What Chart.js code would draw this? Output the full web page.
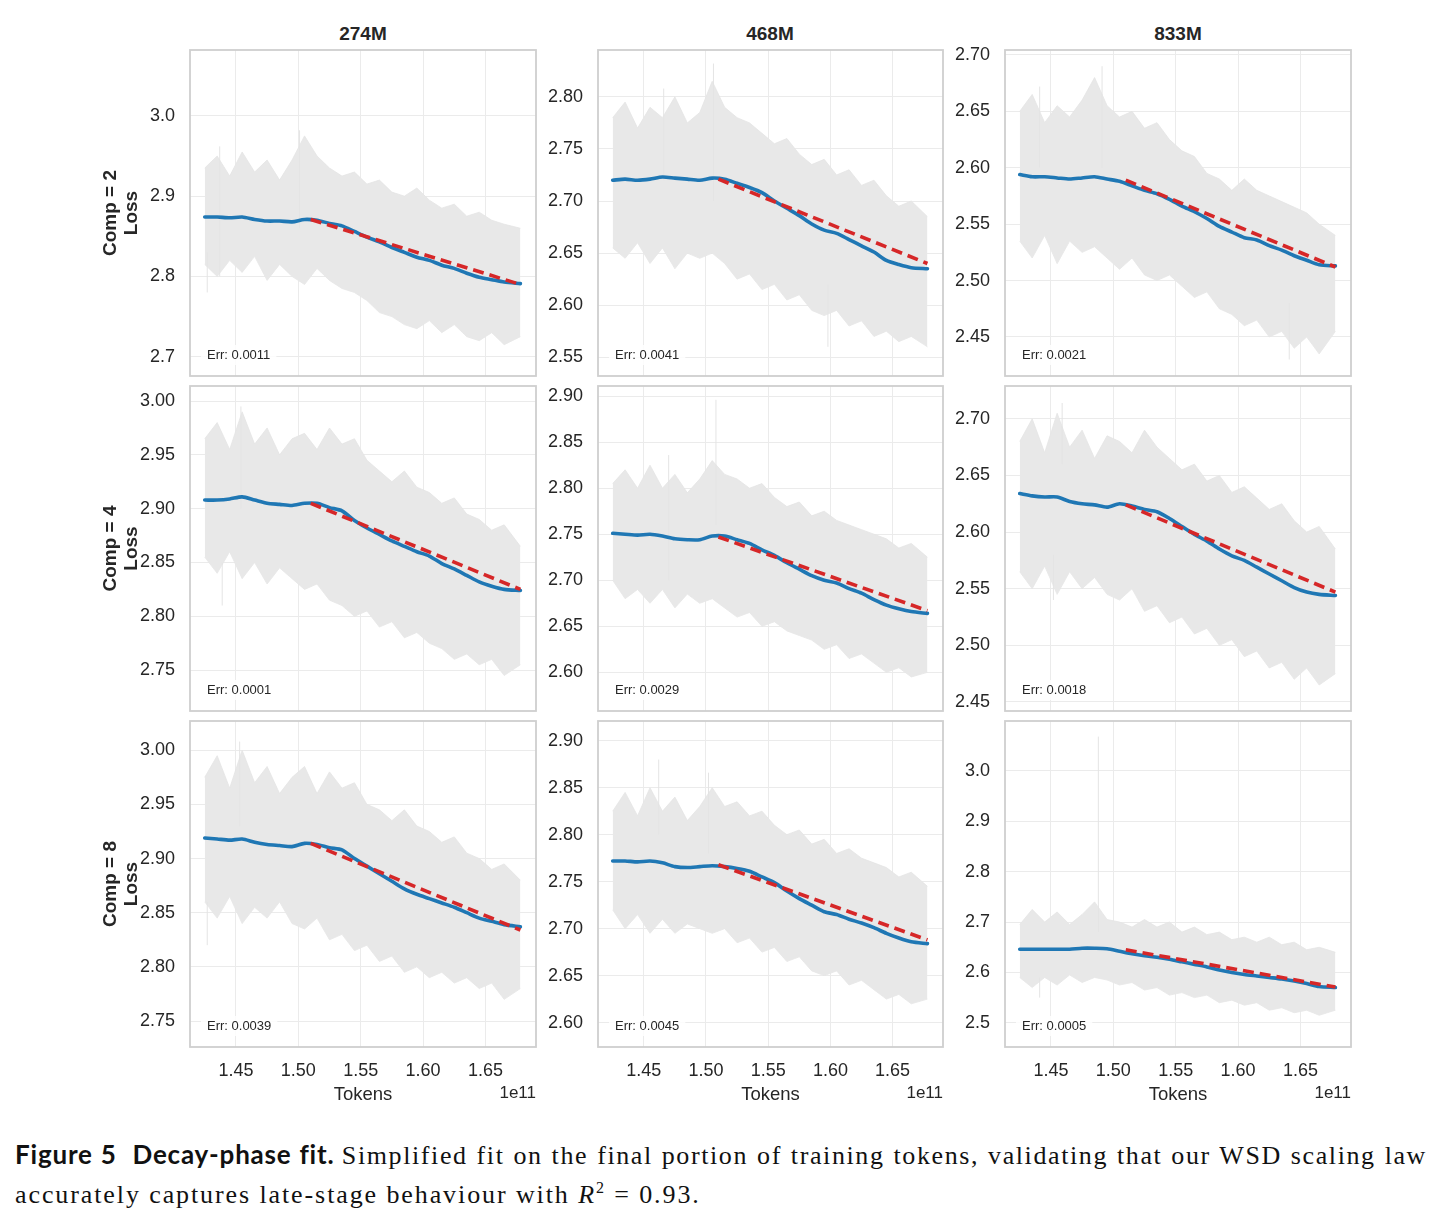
<!DOCTYPE html>
<html>
<head>
<meta charset="utf-8">
<script src="https://cdn.jsdelivr.net/npm/chart.js@4.4.1/dist/chart.umd.min.js"></script>
<style>
  body { margin: 0; background: #fff; width: 1443px; height: 1217px; position: relative; overflow: hidden; }
  .panel { position: absolute; }
  .coltitle { position: absolute; font: bold 19px "Liberation Sans", Arial, sans-serif; color: #262626; line-height: 22px; transform: translateX(-50%); }
  .cap { position: absolute; left: 15px; width: 1412px; font: 26px "Liberation Serif", "Times New Roman", serif; color: #111; line-height: 33px; }
  .cap .s { letter-spacing: 1.6px; }
  .cap .s2 { letter-spacing: 1.9px; }
  .cap b { font-family: Lato, "Open Sans", sans-serif; font-weight: 700; font-size: 26px; letter-spacing: 0.8px; }
</style>
</head>
<body>
<div class="coltitle" style="left:363px;top:23px">274M</div>
<div class="coltitle" style="left:770px;top:23px">468M</div>
<div class="coltitle" style="left:1178px;top:23px">833M</div>
<div class="cap" style="top:1138px;text-align:justify;text-align-last:justify"><b>Figure 5&nbsp; Decay-phase fit.</b> <span class="s">Simplified fit on the final portion of training tokens, validating that our WSD scaling law</span></div>
<div class="cap" style="top:1171px"><span class="s2">accurately captures late-stage behaviour with <i>R</i><sup style="font-size:16px">2</sup> = 0.93.</span></div>

<script>
// tokens are in units of 1e11
const tokens = [1.425, 1.435, 1.445, 1.455, 1.465, 1.475, 1.485, 1.495, 1.505, 1.515, 1.525, 1.535, 1.545,
                1.555, 1.565, 1.575, 1.585, 1.595, 1.605, 1.615, 1.625, 1.635, 1.645, 1.655, 1.665, 1.678];
const xTicks = [1.45, 1.50, 1.55, 1.60, 1.65];
const xRange = [1.4132, 1.6905];

const models = ['274M', '468M', '833M'];
const comps = ['Comp = 2', 'Comp = 4', 'Comp = 8'];
// panels in row order: comp 2 (274M, 468M, 833M), comp 4 (...), comp 8 (...)
const errs = ['0.0011', '0.0041', '0.0021', '0.0001', '0.0029', '0.0018', '0.0039', '0.0045', '0.0005'];

// smoothed loss (blue)
const smooth = [
  [2.874,2.874,2.873,2.874,2.871,2.869,2.869,2.868,2.871,2.870,2.866,2.863,2.856,2.849,2.843,2.836,2.830,2.824,2.820,2.814,2.810,2.804,2.799,2.796,2.793,2.791],
  [2.720,2.721,2.720,2.721,2.723,2.722,2.721,2.720,2.722,2.721,2.717,2.713,2.708,2.700,2.693,2.686,2.678,2.672,2.669,2.663,2.657,2.651,2.643,2.639,2.636,2.635],
  [2.594,2.592,2.592,2.591,2.590,2.591,2.592,2.590,2.588,2.584,2.580,2.577,2.572,2.566,2.561,2.555,2.548,2.543,2.538,2.536,2.531,2.527,2.522,2.518,2.514,2.513],
  [2.908,2.908,2.909,2.911,2.908,2.905,2.904,2.903,2.905,2.905,2.901,2.898,2.889,2.882,2.876,2.870,2.865,2.860,2.856,2.849,2.844,2.838,2.832,2.828,2.825,2.824],
  [2.751,2.750,2.749,2.750,2.748,2.745,2.744,2.744,2.748,2.748,2.744,2.740,2.733,2.727,2.719,2.712,2.705,2.700,2.697,2.691,2.686,2.679,2.673,2.669,2.666,2.664],
  [2.634,2.632,2.631,2.631,2.627,2.625,2.624,2.622,2.625,2.623,2.620,2.618,2.612,2.605,2.598,2.592,2.585,2.579,2.575,2.569,2.563,2.557,2.551,2.547,2.545,2.544],
  [2.919,2.918,2.917,2.918,2.915,2.913,2.912,2.911,2.914,2.913,2.910,2.908,2.900,2.893,2.886,2.879,2.872,2.867,2.863,2.859,2.855,2.850,2.845,2.842,2.839,2.837],
  [2.772,2.772,2.771,2.772,2.770,2.766,2.765,2.766,2.767,2.766,2.764,2.761,2.755,2.749,2.740,2.732,2.725,2.718,2.715,2.710,2.706,2.701,2.695,2.690,2.686,2.684],
  [2.646,2.646,2.646,2.646,2.646,2.648,2.648,2.647,2.642,2.637,2.633,2.630,2.626,2.621,2.616,2.611,2.605,2.600,2.596,2.593,2.590,2.587,2.583,2.578,2.572,2.570]
];

// raw loss band (grey), upper and lower envelope
const upper = [
  [2.935,2.950,2.925,2.955,2.930,2.945,2.920,2.945,2.975,2.950,2.935,2.925,2.930,2.915,2.920,2.905,2.900,2.910,2.895,2.885,2.890,2.875,2.880,2.870,2.865,2.860],
  [2.780,2.795,2.770,2.790,2.780,2.800,2.775,2.785,2.815,2.790,2.780,2.775,2.765,2.755,2.760,2.745,2.735,2.740,2.725,2.730,2.715,2.720,2.705,2.695,2.700,2.685],
  [2.650,2.665,2.640,2.655,2.645,2.660,2.680,2.655,2.645,2.650,2.635,2.640,2.625,2.615,2.610,2.595,2.590,2.580,2.590,2.580,2.575,2.570,2.565,2.560,2.550,2.540],
  [2.965,2.980,2.955,2.990,2.960,2.975,2.950,2.965,2.970,2.955,2.975,2.960,2.965,2.945,2.935,2.925,2.935,2.920,2.915,2.905,2.910,2.895,2.890,2.880,2.885,2.865],
  [2.805,2.820,2.800,2.825,2.800,2.815,2.795,2.810,2.830,2.815,2.810,2.800,2.805,2.790,2.780,2.785,2.770,2.775,2.765,2.760,2.755,2.750,2.745,2.735,2.740,2.725],
  [2.680,2.700,2.670,2.705,2.675,2.690,2.665,2.685,2.680,2.670,2.690,2.675,2.665,2.655,2.660,2.645,2.650,2.635,2.640,2.630,2.620,2.625,2.610,2.600,2.605,2.585],
  [2.975,2.995,2.965,3.000,2.970,2.985,2.960,2.975,2.985,2.960,2.980,2.965,2.970,2.950,2.945,2.935,2.945,2.930,2.925,2.915,2.920,2.905,2.900,2.890,2.895,2.880],
  [2.825,2.845,2.820,2.850,2.825,2.840,2.815,2.830,2.850,2.830,2.835,2.820,2.825,2.810,2.800,2.805,2.790,2.795,2.780,2.785,2.775,2.770,2.765,2.755,2.760,2.745],
  [2.695,2.725,2.700,2.720,2.695,2.715,2.740,2.705,2.700,2.690,2.705,2.690,2.700,2.680,2.690,2.675,2.680,2.665,2.670,2.660,2.670,2.655,2.660,2.645,2.650,2.640]
];
const lower = [
  [2.815,2.800,2.820,2.805,2.825,2.795,2.815,2.800,2.790,2.810,2.795,2.785,2.780,2.770,2.755,2.750,2.740,2.735,2.745,2.730,2.740,2.725,2.720,2.730,2.715,2.725],
  [2.655,2.645,2.660,2.640,2.655,2.635,2.650,2.645,2.650,2.640,2.625,2.630,2.615,2.620,2.605,2.610,2.595,2.590,2.595,2.580,2.585,2.570,2.575,2.565,2.570,2.560],
  [2.535,2.520,2.540,2.515,2.535,2.525,2.530,2.520,2.510,2.520,2.505,2.500,2.505,2.495,2.485,2.490,2.475,2.470,2.460,2.465,2.450,2.455,2.440,2.450,2.435,2.455],
  [2.855,2.840,2.860,2.835,2.850,2.830,2.845,2.835,2.825,2.830,2.815,2.810,2.800,2.805,2.790,2.795,2.780,2.785,2.775,2.770,2.760,2.765,2.755,2.760,2.745,2.755],
  [2.700,2.680,2.690,2.675,2.690,2.670,2.685,2.675,2.680,2.670,2.660,2.665,2.650,2.655,2.645,2.640,2.635,2.625,2.630,2.615,2.620,2.610,2.600,2.605,2.595,2.600],
  [2.565,2.550,2.570,2.545,2.565,2.550,2.560,2.545,2.540,2.550,2.530,2.535,2.520,2.525,2.510,2.515,2.500,2.505,2.490,2.495,2.480,2.485,2.470,2.480,2.465,2.475],
  [2.860,2.845,2.865,2.840,2.855,2.845,2.860,2.840,2.835,2.845,2.825,2.830,2.815,2.820,2.805,2.810,2.795,2.800,2.790,2.795,2.785,2.790,2.780,2.785,2.770,2.780],
  [2.720,2.700,2.715,2.695,2.710,2.695,2.705,2.700,2.695,2.700,2.685,2.690,2.675,2.680,2.665,2.670,2.655,2.650,2.655,2.640,2.645,2.635,2.625,2.630,2.620,2.625],
  [2.590,2.570,2.590,2.575,2.595,2.580,2.590,2.585,2.575,2.580,2.565,2.570,2.555,2.560,2.550,2.555,2.540,2.545,2.535,2.540,2.525,2.530,2.520,2.525,2.515,2.525]
];

// isolated tall raw spikes: [token, low, high]
const spikes = [
  [[1.501, 2.86, 2.982], [1.437, 2.80, 2.962], [1.427, 2.78, 2.83]],
  [[1.506, 2.70, 2.832], [1.466, 2.72, 2.808], [1.598, 2.56, 2.62]],
  [[1.491, 2.60, 2.690], [1.441, 2.60, 2.672], [1.641, 2.43, 2.48]],
  [[1.454, 2.90, 2.995], [1.439, 2.81, 2.85]],
  [[1.508, 2.76, 2.896], [1.470, 2.70, 2.836]],
  [[1.459, 2.66, 2.714], [1.452, 2.54, 2.58]],
  [[1.453, 2.93, 3.008], [1.427, 2.82, 2.86]],
  [[1.462, 2.80, 2.880], [1.502, 2.78, 2.866]],
  [[1.488, 2.68, 3.068], [1.441, 2.55, 2.59]]
];

// linear decay-phase fit (red dashed)
const fitX = [1.51, 1.678];
const fitY = [
  [2.871, 2.790], [2.721, 2.640], [2.589, 2.512],
  [2.905, 2.825], [2.747, 2.667], [2.624, 2.547],
  [2.914, 2.834], [2.768, 2.688], [2.645, 2.571]
];

const yRange = [
  [2.676, 3.082], [2.532, 2.845], [2.4154, 2.7044],
  [2.712, 3.014], [2.558, 2.911], [2.442, 2.729],
  [2.726, 3.027], [2.574, 2.921], [2.452, 3.099]
];
const yTicks = [
  [2.7, 2.8, 2.9, 3.0], [2.55, 2.60, 2.65, 2.70, 2.75, 2.80], [2.45, 2.50, 2.55, 2.60, 2.65, 2.70],
  [2.75, 2.80, 2.85, 2.90, 2.95, 3.00], [2.60, 2.65, 2.70, 2.75, 2.80, 2.85, 2.90], [2.45, 2.50, 2.55, 2.60, 2.65, 2.70],
  [2.75, 2.80, 2.85, 2.90, 2.95, 3.00], [2.60, 2.65, 2.70, 2.75, 2.80, 2.85, 2.90], [2.5, 2.6, 2.7, 2.8, 2.9, 3.0]
];
const yDecimals = [1, 2, 2, 2, 2, 2, 2, 2, 1];

// layout of the grid of panels (pixel boxes of each plot area)
const colX = [190, 598, 1005], colW = [346, 345, 346];
const rowY = [50, 386, 721], rowH = [326, 325, 326];
const PAD = 14;
const FONT = '"Liberation Sans", Arial, sans-serif';
const TXT = '#262626';

const panelDecor = {
  id: 'panelDecor',
  afterDatasetsDraw(chart, args, opts) {
    const { ctx, chartArea: a } = chart;
    ctx.save();
    // Err label with white box
    ctx.font = '13px ' + FONT;
    const txt = 'Err: ' + opts.err;
    const tw = ctx.measureText(txt).width;
    const tx = a.left + 17, ty = a.bottom - 21;
    ctx.fillStyle = 'rgba(255,255,255,0.85)';
    ctx.fillRect(tx - 6, ty - 10, tw + 12, 20);
    ctx.fillStyle = TXT;
    ctx.textBaseline = 'middle';
    ctx.fillText(txt, tx, ty);
    // frame
    ctx.strokeStyle = '#cfcfcf';
    ctx.lineWidth = 1.8;
    ctx.strokeRect(a.left, a.top, a.right - a.left, a.bottom - a.top);
    // offset text
    if (opts.offset) {
      ctx.font = '17px ' + FONT;
      ctx.textAlign = 'right';
      ctx.fillText(opts.offset, a.right, a.bottom + 46);
    }
    ctx.restore();
  }
};

function pts(ys, xs) {
  return ys.map((y, k) => ({ x: xs[k], y: y }));
}

function makePanel(i) {
  const r = Math.floor(i / 3), c = i % 3;
  const yw = c === 0 ? 100 : 60;
  const xh = r === 2 ? 66 : 0;
  const w = yw + colW[c] + PAD, h = PAD + rowH[r] + xh + PAD;

  const div = document.createElement('div');
  div.className = 'panel';
  div.style.left = (colX[c] - yw) + 'px';
  div.style.top = (rowY[r] - PAD) + 'px';
  const cv = document.createElement('canvas');
  cv.width = w; cv.height = h;
  cv.style.width = w + 'px'; cv.style.height = h + 'px';
  div.appendChild(cv);
  document.body.appendChild(div);

  const spikeData = [];
  spikes[i].forEach(s => {
    spikeData.push({ x: s[0], y: s[1] }, { x: s[0], y: s[2] }, { x: s[0], y: null });
  });

  new Chart(cv, {
    type: 'line',
    data: {
      datasets: [
        { label: 'fit', data: pts(fitY[i], fitX), borderColor: '#d62728', borderWidth: 3.6,
          borderDash: [11, 6], pointRadius: 0, tension: 0 },
        { label: 'smoothed', data: pts(smooth[i], tokens), borderColor: '#1f77b4', borderWidth: 3.6,
          borderCapStyle: 'round', pointRadius: 0, tension: 0.25 },
        { label: 'spikes', data: spikeData, borderColor: '#e4e4e4', borderWidth: 1,
          pointRadius: 0, spanGaps: false },
        { label: 'raw hi', data: pts(upper[i], tokens), borderColor: '#e4e4e4', borderWidth: 0.8,
          backgroundColor: '#e8e8e8', fill: '+1', pointRadius: 0, tension: 0 },
        { label: 'raw lo', data: pts(lower[i], tokens), borderColor: '#e4e4e4', borderWidth: 0.8,
          pointRadius: 0, tension: 0 }
      ]
    },
    options: {
      responsive: false,
      animation: false,
      events: [],
      layout: { padding: { left: 0, right: PAD, top: PAD, bottom: PAD } },
      plugins: {
        legend: { display: false },
        tooltip: { enabled: false },
        panelDecor: { err: errs[i], offset: r === 2 ? '1e11' : null }
      },
      scales: {
        x: {
          type: 'linear',
          min: xRange[0], max: xRange[1],
          afterBuildTicks: s => { s.ticks = xTicks.map(v => ({ value: v })); },
          afterFit: s => { s.height = xh; s.paddingLeft = 0; s.paddingRight = 0; },
          grid: { color: '#ebebeb', lineWidth: 1, drawTicks: false },
          border: { display: false },
          ticks: {
            display: r === 2,
            padding: 13,
            color: TXT,
            font: { family: FONT, size: 18 },
            callback: v => v.toFixed(2)
          },
          title: {
            display: r === 2,
            text: 'Tokens',
            color: TXT,
            font: { family: FONT, size: 18.5 },
            padding: { top: 0, bottom: 7 }
          }
        },
        y: {
          min: yRange[i][0], max: yRange[i][1],
          afterBuildTicks: s => { s.ticks = yTicks[i].map(v => ({ value: v })); },
          afterFit: s => { s.width = yw; s.paddingTop = 0; s.paddingBottom = 0; },
          grid: { color: '#ebebeb', lineWidth: 1, drawTicks: false },
          border: { display: false },
          ticks: {
            padding: 15,
            color: TXT,
            font: { family: FONT, size: 18 },
            callback: v => v.toFixed(yDecimals[i])
          },
          title: {
            display: c === 0,
            text: [comps[r], 'Loss'],
            color: TXT,
            font: { family: FONT, size: 19, weight: 'bold', lineHeight: 1.1 },
            padding: { top: 10, bottom: 0 }
          }
        }
      }
    },
    plugins: [panelDecor]
  });
}

for (let i = 0; i < 9; i++) makePanel(i);
</script>
</body>
</html>
